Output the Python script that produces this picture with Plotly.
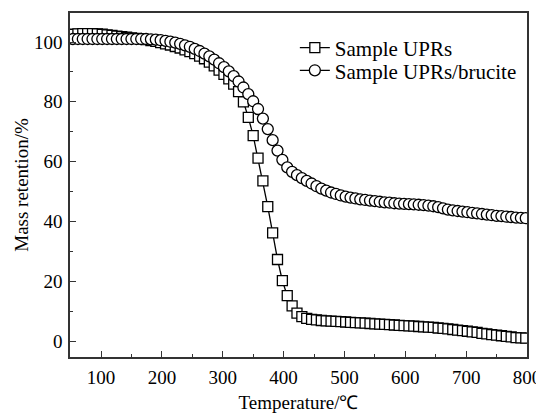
import plotly.graph_objects as go

# temperature of each recorded point (deg C)
temps = [54, 62, 70, 78, 86, 94, 102, 110, 118, 126, 134, 142, 150, 158, 166, 174,
         182, 190, 198, 206, 214, 222, 230, 238, 246, 254, 262, 270, 278, 286, 294,
         302, 310, 318, 326, 334, 342, 350, 358, 366, 374, 382, 390, 398, 406, 414,
         422, 430, 438, 446, 454, 462, 470, 478, 486, 494, 502, 510, 518, 526, 534,
         542, 550, 558, 566, 574, 582, 590, 598, 606, 614, 622, 630, 638, 646, 654,
         662, 670, 678, 686, 694, 702, 710, 718, 726, 734, 742, 750, 758, 766, 774,
         782, 790, 798]

# mass retention (%) - sample UPRs
upr = [102.6, 102.7, 102.8, 102.8, 102.8, 102.7, 102.6, 102.4, 102.2, 102.0, 101.8,
       101.6, 101.4, 101.2, 101.0, 100.8, 100.5, 100.2, 99.8, 99.4, 99.0, 98.5, 98.0,
       97.4, 96.8, 96.1, 95.3, 94.4, 93.3, 92.0, 90.6, 89.2, 87.7, 85.9, 83.4, 80.0,
       74.8, 68.7, 61.2, 53.6, 45.0, 36.2, 27.3, 20.2, 15.2, 11.8, 9.4, 8.2, 7.6, 7.3,
       7.1, 6.9, 6.8, 6.7, 6.6, 6.5, 6.4, 6.3, 6.2, 6.1, 6.0, 5.9, 5.8, 5.7, 5.6, 5.5,
       5.4, 5.3, 5.2, 5.1, 5.0, 4.9, 4.8, 4.7, 4.6, 4.4, 4.3, 4.1, 3.9, 3.7, 3.5, 3.3,
       3.1, 2.9, 2.6, 2.4, 2.2, 2.0, 1.8, 1.6, 1.4, 1.2, 1.1, 1.0]

# mass retention (%) - sample UPRs/brucite
upr_brucite = [101.0, 101.0, 101.0, 101.0, 101.0, 101.0, 101.0, 101.0, 101.0, 101.0,
               101.0, 101.0, 101.0, 101.0, 101.0, 101.0, 100.9, 100.8, 100.6, 100.4,
               100.1, 99.8, 99.4, 98.9, 98.4, 97.7, 97.0, 96.1, 95.2, 94.1, 92.9, 91.6,
               90.2, 88.6, 86.8, 84.8, 82.6, 80.2, 77.6, 74.4, 70.9, 67.2, 63.7, 60.6,
               58.1, 56.6, 55.5, 54.5, 53.6, 52.7, 51.8, 51.0, 50.3, 49.7, 49.2, 48.7,
               48.3, 48.0, 47.7, 47.4, 47.2, 47.0, 46.8, 46.6, 46.4, 46.3, 46.1, 46.0,
               45.9, 45.8, 45.7, 45.6, 45.5, 45.3, 45.1, 44.8, 44.4, 44.0, 43.7, 43.5,
               43.3, 43.1, 42.9, 42.7, 42.5, 42.3, 42.1, 41.9, 41.8, 41.6, 41.5, 41.3,
               41.2, 41.1]

FONT = "Liberation Serif, Times New Roman, serif"

fig = go.Figure()
fig.add_trace(go.Scatter(
    x=temps, y=upr, mode="lines+markers", name="Sample UPRs",
    legend="legend", showlegend=True,
    line=dict(color="black", width=1.3),
    marker=dict(symbol="square", size=10, color="white",
                line=dict(color="black", width=1.3)),
))
fig.add_trace(go.Scatter(
    x=temps, y=upr_brucite, mode="lines+markers", name="Sample UPRs/brucite",
    legend="legend2", showlegend=True,
    line=dict(color="black", width=1.3),
    marker=dict(symbol="circle", size=11, color="white",
                line=dict(color="black", width=1.3)),
))

axis_common = dict(
    showline=True, linecolor="#333", linewidth=1.5, mirror=True,
    ticks="inside", ticklen=6, tickwidth=1.3, tickcolor="#333",
    showgrid=False, zeroline=False, ticklabelstandoff=2,
    tickfont=dict(family=FONT, size=19, color="black"),
)

fig.update_xaxes(
    range=[49, 800], tick0=100, dtick=100,
    minor=dict(ticks="inside", ticklen=3, tickwidth=1.2, tickcolor="#333", dtick=50, tick0=50),
    title=dict(text="Temperature/℃", font=dict(family=FONT, size=19, color="black"), standoff=9),
    **axis_common,
)
fig.update_yaxes(
    range=[-5.3, 109.7], tick0=0, dtick=20,
    minor=dict(ticks="inside", ticklen=3, tickwidth=1.2, tickcolor="#333", dtick=10, tick0=0),
    title=dict(text="Mass retention/%", font=dict(family=FONT, size=19, color="black"), standoff=0),
    **axis_common,
)

leg = dict(xanchor="left", yanchor="top", bgcolor="rgba(0,0,0,0)", visible=True,
           font=dict(family=FONT, size=21, color="black"))

# the page body has an 8px margin, so the figure is a little smaller than the window
fig.update_layout(
    width=536, height=409,
    margin=dict(l=62, r=17, t=3, b=60),
    plot_bgcolor="white", paper_bgcolor="white",
    font=dict(family=FONT, color="black"),
    showlegend=True,
    legend=dict(x=0.492, y=0.958, **leg),
    legend2=dict(x=0.492, y=0.892, **leg),
)

fig.write_html("out.html")
